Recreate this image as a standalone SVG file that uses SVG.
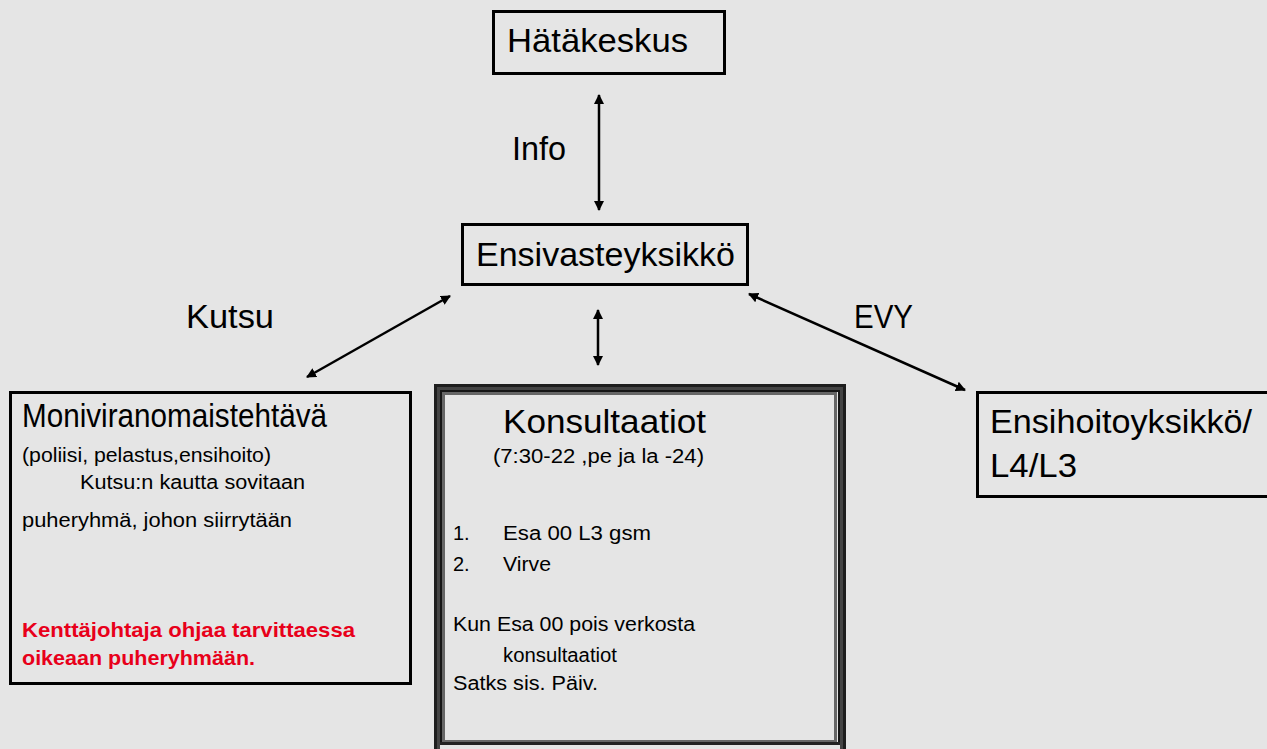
<svg xmlns="http://www.w3.org/2000/svg" width="1267" height="749" viewBox="0 0 1267 749">
<defs>
<marker id="ah" viewBox="0 0 10 10" refX="9" refY="5" markerWidth="4" markerHeight="4" orient="auto-start-reverse" markerUnits="strokeWidth">
<path d="M0,0 L10,5 L0,10 z" fill="#000"/>
</marker>
<style>
text{font-family:"Liberation Sans",Arial,sans-serif;fill:#000}
.big{font-size:34px}
.sm{font-size:20px}
.red{font-size:21px;font-weight:bold;fill:#e8001a}
.box{fill:none;stroke:#000;stroke-width:3}
.con{stroke:#000;stroke-width:2.5;fill:none;marker-start:url(#ah);marker-end:url(#ah)}
</style>
</defs>
<rect width="1267" height="749" fill="#e5e5e5"/>
<g id="connectors">
<line class="con" x1="599" y1="95" x2="599" y2="210"/>
<line class="con" x1="598" y1="310" x2="598" y2="365"/>
<line class="con" x1="450" y1="296" x2="307" y2="377"/>
<line class="con" x1="749" y1="294" x2="965" y2="390"/>
<text class="big" x="512" y="160" textLength="54" lengthAdjust="spacingAndGlyphs">Info</text>
<text class="big" x="186" y="328" textLength="88" lengthAdjust="spacingAndGlyphs">Kutsu</text>
<text class="big" x="854" y="328" textLength="59" lengthAdjust="spacingAndGlyphs">EVY</text>
</g>
<g id="hatakeskus">
<rect class="box" x="493.5" y="11.5" width="231" height="62"/>
<text class="big" x="507" y="52" textLength="181" lengthAdjust="spacingAndGlyphs">Hätäkeskus</text>
</g>
<g id="ensivasteyksikko">
<rect class="box" x="462.5" y="224.5" width="285" height="60"/>
<text class="big" x="476" y="266" textLength="259" lengthAdjust="spacingAndGlyphs">Ensivasteyksikkö</text>
</g>
<g id="moniviranomaistehtava">
<rect class="box" x="10.5" y="392.5" width="400" height="291"/>
<text class="big" x="22" y="427" textLength="305" lengthAdjust="spacingAndGlyphs">Moniviranomaistehtävä</text>
<text class="sm" x="22" y="462" textLength="249" lengthAdjust="spacingAndGlyphs">(poliisi, pelastus,ensihoito)</text>
<text class="sm" x="80" y="489" textLength="225" lengthAdjust="spacingAndGlyphs">Kutsu:n  kautta  sovitaan</text>
<text class="sm" x="22" y="527" textLength="270" lengthAdjust="spacingAndGlyphs">puheryhmä,  johon  siirrytään</text>
<text class="red" x="22" y="637" textLength="333" lengthAdjust="spacingAndGlyphs">Kenttäjohtaja ohjaa tarvittaessa</text>
<text class="red" x="22" y="665" textLength="233" lengthAdjust="spacingAndGlyphs">oikeaan  puheryhmään.</text>
</g>
<g id="konsultaatiot">
<rect x="435.5" y="385.5" width="409" height="380" fill="none" stroke="#1e1e1e" stroke-width="3"/>
<rect x="438.5" y="388.5" width="403" height="374" fill="none" stroke="#444" stroke-width="3"/>
<rect x="441" y="391" width="398" height="352" fill="none" stroke="#151515" stroke-width="2"/>
<rect x="443.5" y="393.5" width="392" height="348" fill="none" stroke="#666" stroke-width="3"/>
<line x1="440" y1="743.5" x2="840" y2="743.5" stroke="#222" stroke-width="3"/>
<text class="big" x="503" y="433" textLength="203" lengthAdjust="spacingAndGlyphs">Konsultaatiot</text>
<text class="sm" x="493" y="463" textLength="211" lengthAdjust="spacingAndGlyphs">(7:30-22 ,pe  ja la  -24)</text>
<text class="sm" x="453" y="540">1.</text>
<text class="sm" x="503" y="540" textLength="148" lengthAdjust="spacingAndGlyphs">Esa  00  L3  gsm</text>
<text class="sm" x="453" y="571">2.</text>
<text class="sm" x="503" y="571" textLength="48" lengthAdjust="spacingAndGlyphs">Virve</text>
<text class="sm" x="453" y="631" textLength="242" lengthAdjust="spacingAndGlyphs">Kun  Esa  00  pois verkosta</text>
<text class="sm" x="503" y="662" textLength="114" lengthAdjust="spacingAndGlyphs">konsultaatiot</text>
<text class="sm" x="453" y="690" textLength="145" lengthAdjust="spacingAndGlyphs">Satks  sis.  Päiv.</text>
</g>
<g id="ensihoitoyksikko">
<rect class="box" x="977.5" y="392.5" width="292" height="104"/>
<text class="big" x="990" y="433" textLength="262" lengthAdjust="spacingAndGlyphs">Ensihoitoyksikkö/</text>
<text class="big" x="990" y="477" textLength="87" lengthAdjust="spacingAndGlyphs">L4/L3</text>
</g>
</svg>
